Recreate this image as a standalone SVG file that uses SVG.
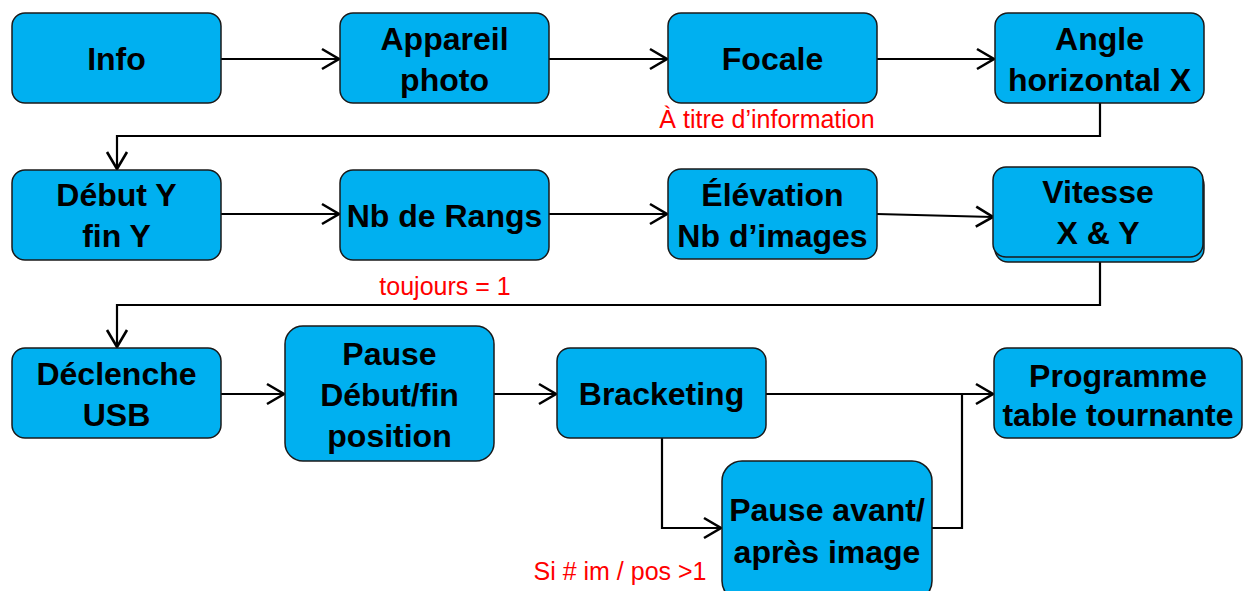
<svg xmlns="http://www.w3.org/2000/svg" width="1246" height="591" viewBox="0 0 1246 591">
<style>
.box{fill:#00b0f0;stroke:#1a1a1a;stroke-width:1.5}
.t{font-family:"Liberation Sans",Arial,sans-serif;font-weight:bold;font-size:32px;fill:#000;text-anchor:middle}
.r{font-family:"Liberation Sans",Arial,sans-serif;font-size:25px;fill:#ff0000;text-anchor:middle}
.c{fill:none;stroke:#000;stroke-width:2.2}
</style>
<defs>
<marker id="ah" markerUnits="userSpaceOnUse" markerWidth="24" markerHeight="26" refX="19" refY="12" orient="auto" viewBox="0 0 24 24">
<path d="M2,2 L19,12 L2,22" fill="none" stroke="#000" stroke-width="2.6"/>
</marker>
</defs>
<rect width="1246" height="591" fill="#fff"/>
<g id="connectors">
<path class="c" d="M221,59 H339" marker-end="url(#ah)"/>
<path class="c" d="M549,59 H667" marker-end="url(#ah)"/>
<path class="c" d="M877,59 H994" marker-end="url(#ah)"/>
<path class="c" d="M1100,103 V136 H117 V169" marker-end="url(#ah)"/>
<path class="c" d="M221,214 H339" marker-end="url(#ah)"/>
<path class="c" d="M549,214 H667" marker-end="url(#ah)"/>
<path class="c" d="M877,214 L993,217" marker-end="url(#ah)"/>
<path class="c" d="M1100,262 V305 H117 V347" marker-end="url(#ah)"/>
<path class="c" d="M221,394 H284" marker-end="url(#ah)"/>
<path class="c" d="M494,394 H556" marker-end="url(#ah)"/>
<path class="c" d="M766,394 H993" marker-end="url(#ah)"/>
<path class="c" d="M662,438 V528 H721" marker-end="url(#ah)"/>
<path class="c" d="M932,528 H962 V394"/>
</g>
<g id="info"><rect class="box" x="12" y="13" width="209" height="90" rx="13"/><text class="t" x="116.5" y="70">Info</text></g>
<g id="appareil"><rect class="box" x="340" y="13" width="209" height="90" rx="13"/><text class="t" x="444.5" y="50">Appareil</text><text class="t" x="444.5" y="91">photo</text></g>
<g id="focale"><rect class="box" x="668" y="13" width="209" height="90" rx="13"/><text class="t" x="772.5" y="70">Focale</text></g>
<g id="angle"><rect class="box" x="995" y="13" width="209" height="90" rx="13"/><text class="t" x="1099.5" y="50">Angle</text><text class="t" x="1099.5" y="91">horizontal X</text></g>
<g id="debut"><rect class="box" x="12" y="170" width="209" height="90" rx="13"/><text class="t" x="116.5" y="206">Début Y</text><text class="t" x="116.5" y="247">fin Y</text></g>
<g id="rangs"><rect class="box" x="340" y="170" width="209" height="90" rx="13"/><text class="t" x="444.5" y="227">Nb de Rangs</text></g>
<g id="elevation"><rect class="box" x="668" y="169" width="209" height="90" rx="13"/><text class="t" x="772.5" y="206">Élévation</text><text class="t" x="772.5" y="247">Nb d’images</text></g>
<g id="vitesse"><rect class="box" x="995" y="172" width="209" height="90" rx="13"/><rect class="box" x="993" y="167" width="210" height="90" rx="13"/><text class="t" x="1098" y="203">Vitesse</text><text class="t" x="1098" y="244">X &amp; Y</text></g>
<g id="declenche"><rect class="box" x="12" y="348" width="209" height="90" rx="13"/><text class="t" x="116.5" y="385">Déclenche</text><text class="t" x="116.5" y="426">USB</text></g>
<g id="pause1"><rect class="box" x="285" y="326" width="209" height="135" rx="18"/><text class="t" x="389.5" y="365">Pause</text><text class="t" x="389.5" y="406">Début/fin</text><text class="t" x="389.5" y="447">position</text></g>
<g id="bracketing"><rect class="box" x="557" y="348" width="209" height="90" rx="13"/><text class="t" x="661.5" y="405">Bracketing</text></g>
<g id="programme"><rect class="box" x="994" y="348" width="248" height="90" rx="13"/><text class="t" x="1118" y="387">Programme</text><text class="t" x="1118" y="426">table tournante</text></g>
<g id="pause2"><rect class="box" x="722" y="461" width="210" height="140" rx="20"/><text class="t" x="827" y="521">Pause avant/</text><text class="t" x="827" y="563">après image</text></g>
<g id="labels">
<text class="r" x="767" y="128">À titre d’information</text>
<text class="r" x="445" y="295">toujours = 1</text>
<text class="r" x="620" y="580">Si # im / pos &gt;1</text>
</g>
</svg>
